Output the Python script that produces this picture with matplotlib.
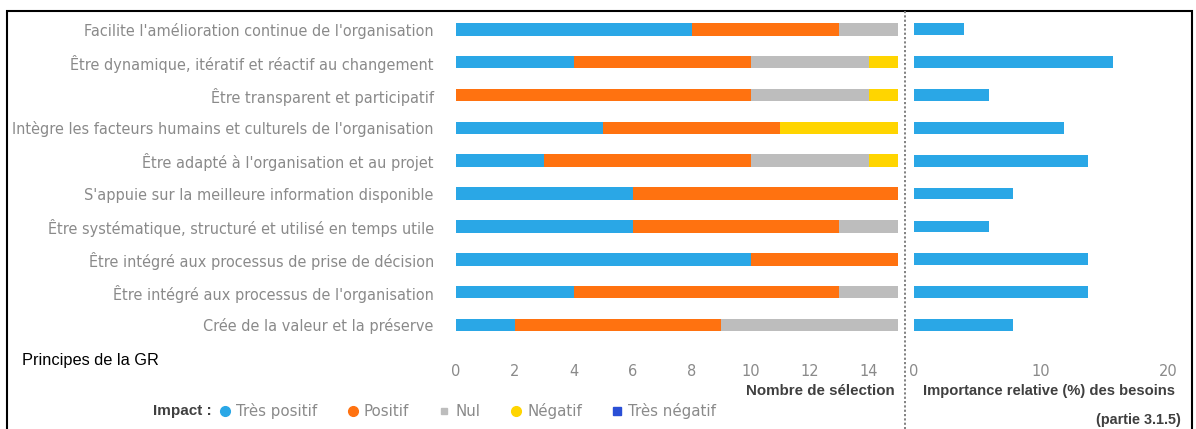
import matplotlib
matplotlib.use("Agg")
import matplotlib.pyplot as plt
from matplotlib.lines import Line2D
from matplotlib.patches import Rectangle

plt.rcParams['font.family'] = ['DejaVu Sans']

categories = [
    "Facilite l'amélioration continue de l'organisation",
    "Être dynamique, itératif et réactif au changement",
    "Être transparent et participatif",
    "Intègre les facteurs humains et culturels de l'organisation",
    "Être adapté à l'organisation et au projet",
    "S'appuie sur la meilleure information disponible",
    "Être systématique, structuré et utilisé en temps utile",
    "Être intégré aux processus de prise de décision",
    "Être intégré aux processus de l'organisation",
    "Crée de la valeur et la préserve",
]
impact_names = ["Très positif", "Positif", "Nul", "Négatif", "Très négatif"]
tres_positif = [8, 4, 0, 5, 3, 6, 6, 10, 4, 2]
positif      = [5, 6, 10, 6, 7, 9, 7, 5, 9, 7]
nul          = [2, 4, 4, 0, 4, 0, 2, 0, 2, 6]
negatif      = [0, 1, 1, 4, 1, 0, 0, 0, 0, 0]
tres_negatif = [0, 0, 0, 0, 0, 0, 0, 0, 0, 0]
importance   = [3.9, 15.7, 5.9, 11.8, 13.7, 7.8, 5.9, 13.7, 13.7, 7.8]
left_ticks = [0, 2, 4, 6, 8, 10, 12, 14]
right_ticks = [0, 10, 20]

colors = ["#2AA7E6", "#FF7210", "#BDBDBD", "#FFD500", "#2A4FD6"]
label_gray = "#8A8A8A"
dark_gray = "#404040"

W, H = 1196, 429
fig = plt.figure(figsize=(W / 100, H / 100), dpi=100)

def fx(px):
    return px / W

def fy(py):
    return 1 - py / H

# left stacked bar chart
axL = fig.add_axes([fx(456), fy(341.4), fx(442), 328.5 / H])
series = [tres_positif, positif, nul, negatif, tres_negatif]
ypos = list(range(len(categories)))
lefts = [0] * len(categories)
for vals, col in zip(series, colors):
    axL.barh(ypos, vals, left=lefts, height=0.38, color=col, edgecolor='none')
    lefts = [a + b for a, b in zip(lefts, vals)]
axL.set_xlim(0, 15)
axL.set_ylim(len(categories) - 0.5, -0.5)
axL.set_yticks(ypos)
axL.set_yticklabels(categories, fontsize=10.45, color=label_gray)
axL.set_xticks(left_ticks)
axL.set_xticklabels([str(t) for t in left_ticks], fontsize=10.5, color=label_gray)
axL.tick_params(axis='y', length=0, pad=16)
axL.tick_params(axis='x', length=0, pad=16)
for s in axL.spines.values():
    s.set_visible(False)

# right importance chart
axR = fig.add_axes([fx(914), fy(341.4), fx(266.7), 328.5 / H])
axR.barh(ypos, importance, height=0.36, color=colors[0], edgecolor='none')
axR.set_xlim(0, 21)
axR.set_ylim(len(categories) - 0.5, -0.5)
axR.set_yticks([])
axR.set_xticks(right_ticks)
axR.set_xticklabels([str(t) for t in right_ticks], fontsize=10.5, color=label_gray)
axR.tick_params(axis='x', length=0, pad=16)
for s in axR.spines.values():
    s.set_visible(False)

# texts
bold_font = ['Liberation Sans', 'DejaVu Sans']
fig.text(fx(895), fy(391), "Nombre de sélection", ha='right', va='center',
         fontsize=10.9, color=dark_gray, fontweight='bold', family=bold_font)
fig.text(fx(1175), fy(391), "Importance relative (%) des besoins", ha='right', va='center',
         fontsize=10.6, color=dark_gray, fontweight='bold', family=bold_font)
fig.text(fx(1181), fy(420), "(partie 3.1.5)", ha='right', va='center',
         fontsize=10.4, color=dark_gray, fontweight='bold', family=bold_font)
fig.text(fx(22), fy(360), "Principes de la GR", ha='left', va='center',
         fontsize=11.8, color='black', family=bold_font)
fig.text(fx(153), fy(411), "Impact :", ha='left', va='center',
         fontsize=11, color=dark_gray, fontweight='bold', family=bold_font)

markers = ['o', 'o', 's', 'o', 's']
msizes = [7, 7, 4, 7, 6]
handles = [Line2D([], [], linestyle='none', marker=m, markersize=ms, color=c)
           for m, ms, c in zip(markers, msizes, colors)]
fig.legend(handles, impact_names, loc='center left', bbox_to_anchor=(fx(218), fy(411)),
           ncol=5, frameon=False, fontsize=10.8, labelcolor=label_gray,
           handletextpad=0.3, columnspacing=1.9, handlelength=0.9, borderpad=0,
           borderaxespad=0)

# dotted separator and frame
fig.add_artist(Line2D([fx(905), fx(905)], [fy(11), 0], color='#777777',
                      linestyle=(0, (1.2, 1.2)), linewidth=1.3))
fig.add_artist(Rectangle((fx(7), -0.1), fx(1192 - 7), fy(11) + 0.1, fill=False,
                         edgecolor='black', linewidth=1.5, transform=fig.transFigure))

fig.savefig("out.png", dpi=100)
